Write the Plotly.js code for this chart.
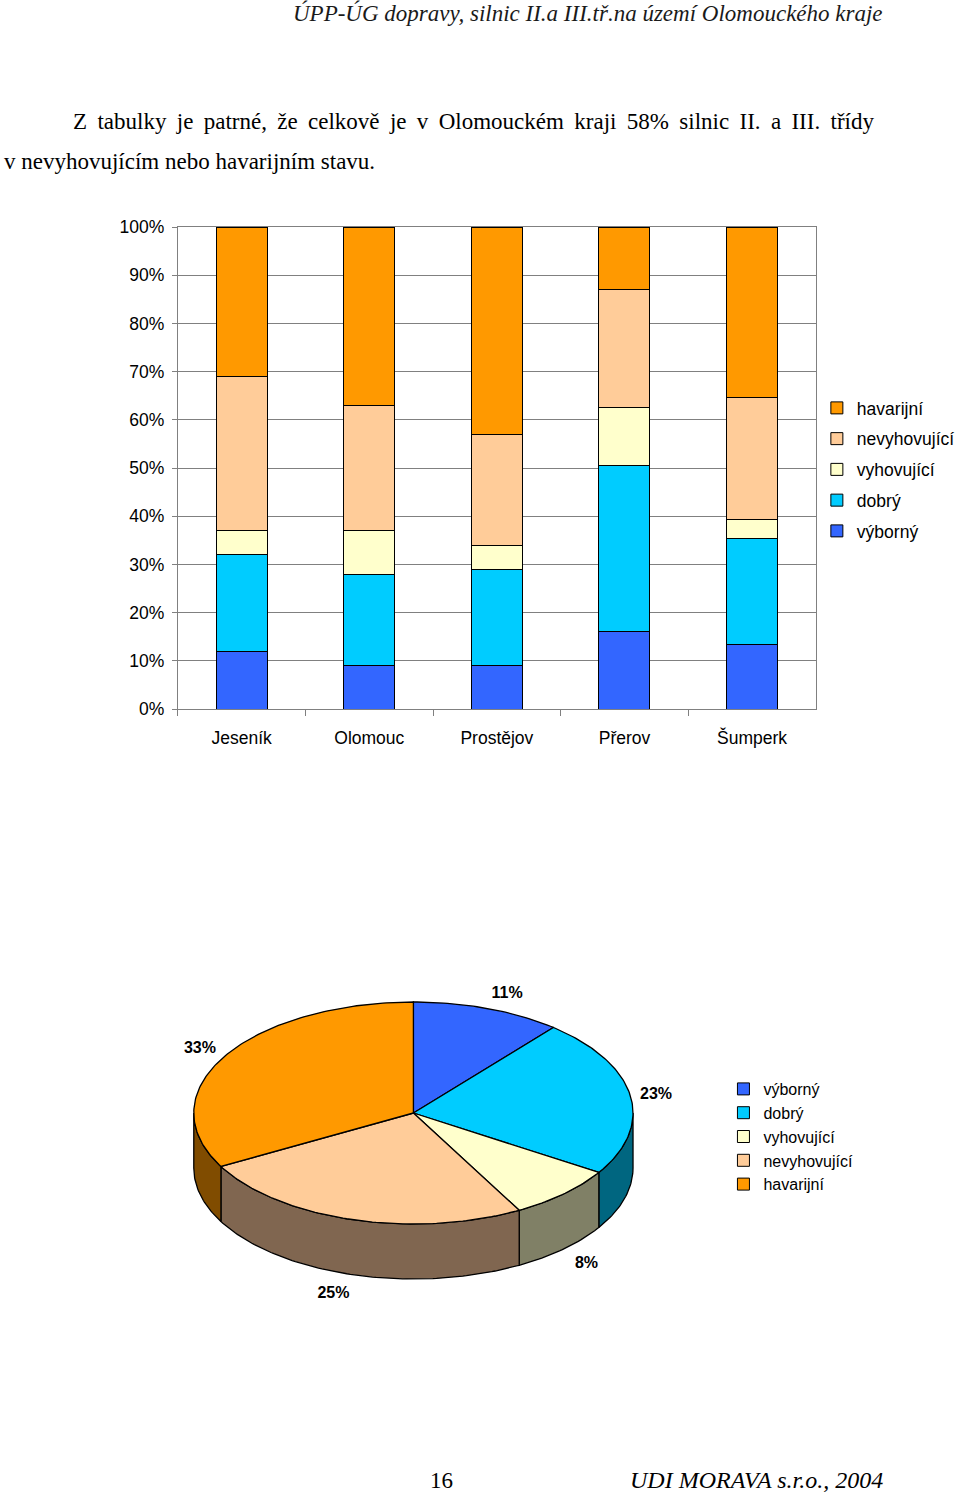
<!DOCTYPE html>
<html><head><meta charset="utf-8">
<script src="https://cdn.plot.ly/plotly-3.0.1.min.js"></script>
<style>html,body{margin:0;padding:0;background:#fff}#chart{width:960px;height:1492px}</style>
</head><body><div id="chart"></div>
<script>
// ---- bar chart data (% of road length by condition) ----
const districts = ["Jeseník", "Olomouc", "Prostějov", "Přerov", "Šumperk"];
const vyborny = [12, 9, 9, 16, 13.3];
const dobry = [20, 19, 20, 34.5, 22];
const vyhovujici = [5, 9, 5, 12, 4];
const nevyhovujici = [32, 26, 23, 24.5, 25.3];
const havarijni = [31, 37, 43, 13, 35.4];
const seriesNames = ["výborný", "dobrý", "vyhovující", "nevyhovující", "havarijní"];
const yTickVals = [0, 10, 20, 30, 40, 50, 60, 70, 80, 90, 100];

// ---- pie data (whole region) ----
const pieLabels = ["výborný", "dobrý", "vyhovující", "nevyhovující", "havarijní"];
const pieValues = [11, 23, 8, 25, 33];

// ---- styles ----
const colors = ["#3366FF", "#00CCFF", "#FFFFCC", "#FFCC99", "#FF9900"];
const sideColors = ["#1A3380", "#006680", "#808066", "#806650", "#804C00"];
const SANS = "Liberation Sans, Arial, sans-serif";
const SERIF = "Liberation Serif, Times New Roman, serif";
const W = 960, H = 1492;
const px = v => v / W, py = v => 1 - v / H;

const seriesVals = [vyborny, dobry, vyhovujici, nevyhovujici, havarijni];
const traces = seriesVals.map((vals, i) => ({
  type: "bar", x: districts, y: vals, name: seriesNames[i],
  legendgroup: seriesNames[i], legendrank: seriesVals.length - i, width: 0.4,
  marker: {color: colors[i], line: {color: "#000", width: 1}},
  xaxis: "x", yaxis: "y", hoverinfo: "skip"
}));

// ---- 3D pie geometry ----
const G = {cx: 416, cy: 1113, rx: 221, ry: 111, depth: 55};
const total = pieValues.reduce((a, b) => a + b, 0);
function pt(t, dy) { return [G.cx + G.rx * Math.sin(t), G.cy - G.ry * Math.cos(t) + (dy || 0)]; }
function arc(a, b, dy) {
  const n = Math.max(2, Math.ceil(Math.abs(b - a) / (Math.PI / 180)));
  const out = [];
  for (let k = 0; k <= n; k++) out.push(pt(a + (b - a) * k / n, dy));
  return out;
}
let cum = 0;
const sideTraces = [], topTraces = [];
const labX = [], labY = [], labT = [];
pieValues.forEach((v, i) => {
  const a0 = cum / total * 2 * Math.PI;
  cum += v;
  const a1 = cum / total * 2 * Math.PI;
  const lo = Math.max(a0, Math.PI / 2), hi = Math.min(a1, 3 * Math.PI / 2);
  if (hi > lo) {
    const pts = arc(lo, hi, 0).concat(arc(hi, lo, G.depth));
    pts.push(pts[0]);
    sideTraces.push({
      type: "scatter", mode: "lines", fill: "toself", fillcolor: sideColors[i],
      x: pts.map(p => p[0]), y: pts.map(p => p[1]),
      line: {color: "#000", width: 1.3}, xaxis: "x2", yaxis: "y2",
      showlegend: false, hoverinfo: "skip"
    });
  }
  const tp = [[G.cx, G.cy]].concat(arc(a0, a1, 0));
  tp.push([G.cx, G.cy]);
  topTraces.push({
    type: "scatter", mode: "lines", fill: "toself", fillcolor: colors[i],
    x: tp.map(p => p[0]), y: tp.map(p => p[1]),
    line: {color: "#000", width: 1.3}, xaxis: "x2", yaxis: "y2",
    showlegend: false, hoverinfo: "skip"
  });
  const m = (a0 + a1) / 2, s = Math.sin(m), c = Math.cos(m);
  const edge = pt(m, c < 0 ? G.depth : 0);
  labX.push(edge[0] + 16 * Math.sign(s) + 10 * s);
  labY.push(edge[1] - 18 * c + 2);
  labT.push(Math.round(v / total * 100) + "%");
});
const labelTrace = {
  type: "scatter", mode: "text", x: labX, y: labY, text: labT,
  textfont: {family: SANS, size: 16, color: "#000", weight: "bold"},
  xaxis: "x2", yaxis: "y2", showlegend: false, hoverinfo: "skip", cliponaxis: false
};
// pie trace supplying the pie's legend (zero size, hidden at the 3D pie centre)
const legendPie = {
  type: "pie", labels: pieLabels, values: pieValues, sort: false, direction: "clockwise",
  marker: {colors: colors, line: {color: "#000", width: 1}},
  textinfo: "none", hoverinfo: "skip", legend: "legend2",
  domain: {x: [px(G.cx) - 0.0002, px(G.cx) + 0.0002], y: [py(G.cy) - 0.0002, py(G.cy) + 0.0002]}
};

const ann = (text, x, y, xa, size, italic, color) => ({
  text, x, y, xref: "paper", yref: "paper", xanchor: xa, yanchor: "middle", showarrow: false,
  font: {family: SERIF, size, color: color || "#000", style: italic ? "italic" : "normal"}
});
const line1 = "Z tabulky je patrné, že celkově je v Olomouckém kraji 58% silnic II. a III. třídy".split(" ").join(" \u2009");

const layout = {
  width: W, height: H, margin: {l: 0, r: 0, t: 0, b: 0},
  paper_bgcolor: "#fff", plot_bgcolor: "rgba(0,0,0,0)",
  barmode: "stack", showlegend: true,
  font: {family: SANS, color: "#000"},
  xaxis: {
    domain: [px(179), px(821)], anchor: "y", type: "category",
    showline: true, linecolor: "#808080", linewidth: 1, mirror: true,
    ticks: "outside", tickson: "boundaries", ticklen: 6, tickcolor: "#808080",
    ticklabelstandoff: 13,
    showgrid: false, tickfont: {family: SANS, size: 17.5, color: "#000"}, fixedrange: true
  },
  yaxis: {
    domain: [py(709), py(227)], anchor: "x", range: [0, 100],
    tickvals: yTickVals, ticktext: yTickVals.map(v => v + "%"),
    showgrid: true, gridcolor: "#808080", gridwidth: 1, zeroline: false,
    showline: true, linecolor: "#808080", mirror: true,
    ticks: "outside", ticklen: 5, tickcolor: "#808080", ticklabelstandoff: 4,
    tickfont: {family: SANS, size: 17.5, color: "#000"}, fixedrange: true
  },
  xaxis2: {domain: [px(150), px(730)], range: [150, 730], anchor: "y2", visible: false, fixedrange: true},
  yaxis2: {domain: [py(1320), py(960)], range: [1320, 960], anchor: "x2", visible: false, fixedrange: true},
  legend: {
    x: px(822), xanchor: "left", y: py(390), yanchor: "top",
    font: {family: SANS, size: 17.5, color: "#000"},
    traceorder: "grouped", tracegroupgap: 5, bgcolor: "rgba(0,0,0,0)", borderwidth: 0
  },
  legend2: {
    x: px(728), xanchor: "left", y: py(1072), yanchor: "top",
    font: {family: SANS, size: 16, color: "#000"},
    traceorder: "normal", bgcolor: "rgba(0,0,0,0)", borderwidth: 0
  },
  annotations: [
    ann("ÚPP-ÚG dopravy, silnic II.a III.tř.na území Olomouckého kraje", px(891), py(13), "right", 23, true, "#1a1a1a"),
    ann(line1, px(71), py(122), "left", 23, false),
    ann("v nevyhovujícím nebo havarijním stavu.", px(2), py(162), "left", 23, false),
    ann("16", px(431), py(1480), "left", 23, false),
    ann("UDI MORAVA s.r.o., 2004", px(891), py(1480), "right", 24, true)
  ]
};

Plotly.newPlot("chart", traces.concat(sideTraces, topTraces, [labelTrace, legendPie]), layout,
  {displayModeBar: false, staticPlot: true});
</script>
</body></html>
